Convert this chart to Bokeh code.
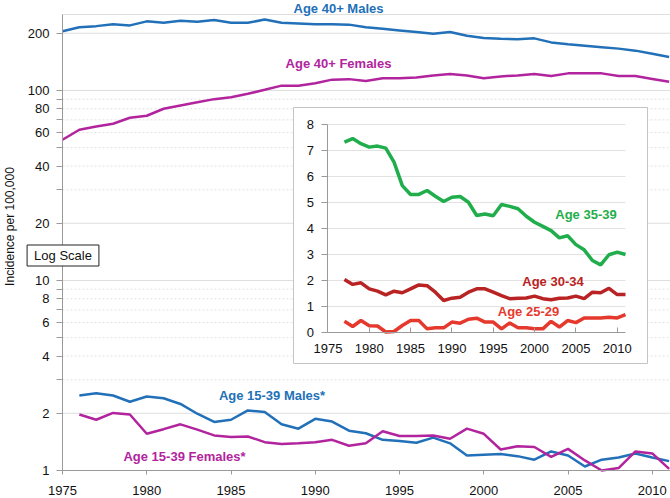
import math
from bokeh.plotting import figure
from bokeh.models import (Range1d, LinearScale, LogScale, LinearAxis, LogAxis, FixedTicker,
                          Label, PrintfTickFormatter)
from bokeh.embed import file_html
from bokeh.resources import INLINE

# ---------------- data ----------------
years_40 = list(range(1975, 2012))
males_40 = [205, 215, 218, 223, 220, 231, 227, 233, 230, 235, 227, 227, 236, 227, 225,
            223, 223, 222, 215, 211, 207, 203, 199, 203, 194, 189, 187, 186, 188, 179,
            175, 172, 169, 166, 162, 156, 150]
females_40 = [55.0, 62.1, 64.6, 66.8, 71.8, 73.6, 80.1, 83.4, 86.7, 90.0, 92.2, 96.0,
              100.8, 106, 106, 109.2, 114, 114.7, 112, 116, 116, 117, 120, 122, 120,
              116, 118.5, 120, 122, 119, 123, 123, 123, 119, 119, 115, 111]

years_1539 = list(range(1976, 2012))
males_1539 = [2.48, 2.55, 2.48, 2.30, 2.45, 2.40, 2.24, 1.99, 1.80, 1.85,
              2.07, 2.03, 1.75, 1.66, 1.87, 1.81, 1.62, 1.57, 1.45, 1.43,
              1.40, 1.49, 1.39, 1.20, 1.21, 1.22, 1.19, 1.14, 1.26, 1.20,
              1.05, 1.14, 1.17, 1.23, 1.17, 1.12]
females_1539 = [1.97, 1.85, 2.01, 1.97, 1.56, 1.65, 1.75, 1.64, 1.53, 1.50,
                1.51, 1.41, 1.38, 1.39, 1.41, 1.45, 1.35, 1.39, 1.61, 1.52,
                1.52, 1.53, 1.47, 1.66, 1.56, 1.29, 1.34, 1.33, 1.18, 1.30,
                1.13, 1.00, 1.03, 1.26, 1.23, 1.02]

years_inset = list(range(1977, 2012))
age_35_39 = [7.32, 7.46, 7.26, 7.13, 7.17, 7.09, 6.55, 5.65, 5.31, 5.31,
             5.46, 5.24, 5.04, 5.20, 5.23, 5.01, 4.50, 4.56, 4.49, 4.92,
             4.85, 4.76, 4.47, 4.24, 4.08, 3.92, 3.64, 3.72, 3.38, 3.18,
             2.77, 2.60, 2.99, 3.09, 3.00]
age_30_34 = [2.04, 1.85, 1.91, 1.68, 1.59, 1.45, 1.59, 1.53, 1.68, 1.83,
             1.80, 1.55, 1.23, 1.32, 1.36, 1.55, 1.68, 1.68, 1.55, 1.42,
             1.30, 1.32, 1.33, 1.40, 1.30, 1.26, 1.32, 1.33, 1.40, 1.30,
             1.55, 1.53, 1.70, 1.46, 1.46]
age_25_29 = [0.43, 0.23, 0.46, 0.26, 0.25, 0.02, 0.04, 0.27, 0.46, 0.46,
             0.14, 0.18, 0.18, 0.40, 0.36, 0.51, 0.55, 0.40, 0.40, 0.14,
             0.37, 0.18, 0.18, 0.14, 0.14, 0.43, 0.21, 0.46, 0.38, 0.56,
             0.56, 0.56, 0.59, 0.56, 0.69]

main_y_ticks = [1, 2, 4, 6, 8, 10, 20, 40, 60, 80, 100, 200]
main_y_minor = [3, 5, 7, 9, 30, 50, 70, 90]
main_grid_solid = [2, 10, 20, 100, 200, 251]
main_grid_dotted = [3, 4, 5, 6, 7, 8, 9, 30, 40, 50, 60, 70, 80, 90]
x_ticks = [1975, 1980, 1985, 1990, 1995, 2000, 2005, 2010]
inset_y_ticks = [0, 1, 2, 3, 4, 5, 6, 7, 8]

# ---------------- styles / layout ----------------
FONT = "Liberation Sans"
BLUE = "#2270b8"
MAGENTA = "#b2249e"
GREEN = "#1fae4b"
DARKRED = "#b92323"
RED = "#e6392d"
AXIS_GRAY = "#9a9a9a"
GRID_SOLID = "#dedede"
GRID_DOT = "#e2e2e2"

W, H = 670, 498
# main plot area in canvas pixels
MX0_PX, MX1_PX = 62.0, 670.0       # 1975 .. X_END
MY1_PX, MYTOP_PX = 470.0, 14.0     # value 1 .. Y_TOP
X_START, X_END = 1975.0, 2011.08
Y_TOP = 251.0

px_per_year = (MX1_PX - MX0_PX) / (X_END - X_START)
px_per_decade = (MY1_PX - MYTOP_PX) / 2.39967

# inset plot area in canvas pixels
IX0_PX, IX1_PX = 327.4, 625.0      # 1975 .. 2011
IY0_PX, IY8_PX = 332.0, 124.0      # 0 .. 8
ix_scale = (IX1_PX - IX0_PX) / 36.0
iy_scale = (IY0_PX - IY8_PX) / 8.0


def mx(px):
    return X_START + (px - MX0_PX) / px_per_year


def my(py):
    return 10 ** ((MY1_PX - py) / px_per_decade)


def ix(px):
    return 1975 + (px - IX0_PX) / ix_scale


def iy(py):
    return (IY0_PX - py) / iy_scale


p = figure(width=W, height=H, x_range=Range1d(mx(0), mx(W)), y_range=Range1d(my(H), my(0)),
           y_axis_type=None, x_axis_type=None, output_backend="svg",
           toolbar_location=None, min_border=0)
p.y_scale = LogScale()
p.outline_line_color = None
p.background_fill_color = "white"
p.border_fill_color = "white"

p.extra_x_ranges = {"ix": Range1d(ix(0), ix(W))}
p.extra_y_ranges = {"iy": Range1d(iy(H), iy(0))}
p.extra_x_scales = {"ix": LinearScale()}
p.extra_y_scales = {"iy": LinearScale()}

# main grid lines
p.segment(x0=[X_START] * len(main_grid_solid), x1=[X_END] * len(main_grid_solid),
          y0=main_grid_solid, y1=main_grid_solid, line_color=GRID_SOLID, line_width=1,
          level="underlay")
p.segment(x0=[X_START] * len(main_grid_dotted), x1=[X_END] * len(main_grid_dotted),
          y0=main_grid_dotted, y1=main_grid_dotted, line_color=GRID_DOT, line_width=1,
          line_dash="2 2", level="underlay")

# main axes (fixed inside the canvas)
ya = LogAxis(fixed_location=X_START, bounds=(1, Y_TOP),
             ticker=FixedTicker(ticks=main_y_ticks, minor_ticks=main_y_minor),
             formatter=PrintfTickFormatter(format="%d"))
ya.major_tick_out = 6
ya.major_tick_in = 0
ya.minor_tick_out = 6
ya.minor_tick_in = 0
ya.major_label_standoff = 7

xa = LinearAxis(fixed_location=1, bounds=(X_START, X_END), ticker=FixedTicker(ticks=x_ticks))
xa.major_tick_out = 4
xa.major_tick_in = 0
xa.minor_tick_out = 0
xa.minor_tick_in = 0
xa.major_label_standoff = 11

for ax in (xa, ya):
    ax.axis_line_color = AXIS_GRAY
    ax.major_tick_line_color = AXIS_GRAY
    ax.minor_tick_line_color = AXIS_GRAY
    ax.major_label_text_font = FONT
    ax.major_label_text_font_size = "13px"
    ax.major_label_text_color = "#111111"
p.add_layout(ya, "left")
p.add_layout(xa, "below")

# y axis title
p.add_layout(Label(x=mx(9), y=my(226), text="Incidence per 100,000", angle=math.pi / 2,
                   text_align="center", text_baseline="middle", text_font=FONT,
                   text_font_size="12px", text_color="#111111"))

# main lines
p.line(years_40, males_40, line_color=BLUE, line_width=2.5)
p.line(years_40, females_40, line_color=MAGENTA, line_width=2.5)
p.line(years_1539, males_1539, line_color=BLUE, line_width=2.5)
p.line(years_1539, females_1539, line_color=MAGENTA, line_width=2.5)

# inset frame
p.quad(left=[ix(293)], right=[ix(647)], bottom=[iy(363)], top=[iy(107)],
       x_range_name="ix", y_range_name="iy",
       fill_color="white", line_color="#c4c4c4", line_width=1)

# inset grid lines
p.segment(x0=[x_ticks[0]] * (len(inset_y_ticks) - 1), y0=inset_y_ticks[1:],
          x1=[2011] * (len(inset_y_ticks) - 1), y1=inset_y_ticks[1:],
          x_range_name="ix", y_range_name="iy", line_color="#e2e2e2", line_width=1)

# inset lines
p.line(years_inset, age_35_39, x_range_name="ix", y_range_name="iy",
       line_color=GREEN, line_width=3.5)
p.line(years_inset, age_30_34, x_range_name="ix", y_range_name="iy",
       line_color=DARKRED, line_width=3.5)
p.line(years_inset, age_25_29, x_range_name="ix", y_range_name="iy",
       line_color=RED, line_width=3.5)

# inset axes
iya = LinearAxis(x_range_name="ix", y_range_name="iy", fixed_location=1975,
                 bounds=(0, 8), ticker=FixedTicker(ticks=inset_y_ticks),
                 major_tick_out=6, major_tick_in=0, minor_tick_out=0, minor_tick_in=0,
                 major_label_standoff=8)
ixa = LinearAxis(x_range_name="ix", y_range_name="iy", fixed_location=0,
                 bounds=(1975, 2011), ticker=FixedTicker(ticks=x_ticks),
                 major_tick_out=0, major_tick_in=5, minor_tick_out=0, minor_tick_in=0,
                 major_label_standoff=11)
for ax in (iya, ixa):
    ax.axis_line_color = AXIS_GRAY
    ax.major_tick_line_color = AXIS_GRAY
    ax.major_label_text_font = FONT
    ax.major_label_text_font_size = "13px"
    ax.major_label_text_color = "#111111"
p.add_layout(iya, "left")
p.add_layout(ixa, "below")

# series labels (text, centre x px, centre y px, colour, in inset)
labels = [
    ("Age 40+ Males", 338, 8, BLUE, False),
    ("Age 40+ Females", 338, 63, MAGENTA, False),
    ("Age 15-39 Males*", 271.5, 395, BLUE, False),
    ("Age 15-39 Females*", 184, 456, MAGENTA, False),
    ("Age 35-39", 585.5, 214, GREEN, True),
    ("Age 30-34", 552.5, 281, DARKRED, True),
    ("Age 25-29", 528, 311, RED, True),
]
for text, lx, ly, col, inset in labels:
    if inset:
        lab = Label(x=ix(lx), y=iy(ly), x_range_name="ix", y_range_name="iy", text=text)
    else:
        lab = Label(x=mx(lx), y=my(ly), text=text)
    lab.text_align = "center"
    lab.text_baseline = "middle"
    lab.text_font = FONT
    lab.text_font_size = "13px"
    lab.text_font_style = "bold"
    lab.text_color = col
    p.add_layout(lab)

# "Log Scale" box
p.add_layout(Label(x=mx(62.5), y=my(255), text="Log Scale", text_align="center",
                   text_baseline="middle", text_font=FONT, text_font_size="13px",
                   text_color="#111111", border_line_color="#222222",
                   border_line_width=1, background_fill_color="white",
                   padding=dict(left=7, right=7, top=3, bottom=3)))

open("out.html", "w").write(file_html(p, INLINE))
